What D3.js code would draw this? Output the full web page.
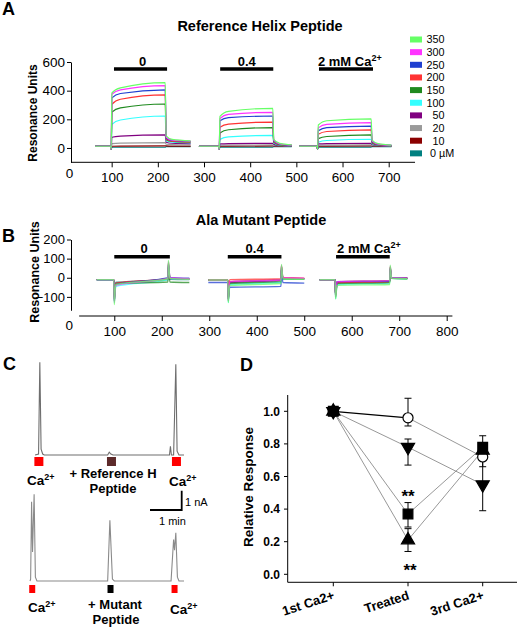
<!DOCTYPE html>
<html><head><meta charset="utf-8">
<script src="https://cdn.jsdelivr.net/npm/d3@7"></script>
<style>
body{margin:0;background:#fff}
svg{display:block}
text{font-family:"Liberation Sans",Arial,Helvetica,sans-serif;fill:#000}
</style>
</head><body><svg id="c" width="520" height="627"></svg>
<script>
// ================= DATA =================
const concLabels = ["350","300","250","200","150","100","50","20","10","0"];
const concColors = ["#66ff66","#ff33ff","#1f3fd0","#ff3333","#1f8a1f","#33ffff","#800080","#9a9a9a","#8b0000","#008080"];

// Panel A (Reference Helix Peptide) - SPR sensorgrams
const caLabelsA = ["0","0.4","2 mM Ca"];
const injA = [[105,220],[335,450],[549,666]];
const segTimesA = [[64,99,216,271],[289,333,449,490],[506,546,662,706]];
const baseA = 12;
// per concentration: [jump, +20s, end of association, after drop, +15s dissociation, end]
const respA_0 = [
  [385,420,456,85,60,50],[375,405,435,75,55,48],[350,380,405,70,52,45],[305,340,370,62,48,42],
  [250,280,307,58,45,40],[165,195,223,50,40,36],[75,82,91,40,33,30],[30,34,37,26,23,22],
  [12,13,14,14,13,13],[5,5,5,10,10,10]];
const respA_04 = [
  [220,255,277,60,32,22],[205,235,249,55,29,20],[190,212,223,50,27,19],[145,167,181,45,25,18],
  [105,127,142,40,22,17],[60,77,88,35,20,16],[28,31,33,25,18,15],[18,20,21,18,16,14],
  [12,13,14,14,13,13],[6,6,6,10,10,10]];
const respA_2 = [
  [160,190,203,55,30,20],[140,165,177,50,27,19],[120,142,153,45,25,18],[95,115,126,40,23,17],
  [65,80,91,35,21,16],[40,52,61,30,19,15],[28,31,33,24,17,14],[18,20,21,18,16,14],
  [12,13,14,14,13,13],[6,6,6,10,10,10]];
const respA = [respA_0, respA_04, respA_2];
const yTicksA = [0,200,400,600];
const xTicksA = [0,100,200,300,400,500,600,700];

// Panel B (Ala Mutant Peptide)
const injB = [[100,217],[339,452],[567,680]];
const segTimesB = [[63,100,214,258],[298,340,452,500],[532,566,681,717]];
// per concentration: [baseline, spike min, after spike, end assoc, spike max, after, end]
const respB_0 = [
  [-10,-140,-35,-5,90,-3,-8],[-10,-130,-40,-3,85,0,-5],[-10,-120,-35,0,70,2,-3],[-10,-110,-30,-3,75,-2,-6],
  [-10,-120,-30,-22,80,-22,-25],[-12,-130,-45,-10,70,-5,-8],[-10,-100,-30,-5,60,-5,-8],[-10,-110,-25,-8,60,-5,-8],
  [-10,-90,-30,-5,50,-5,-6],[-10,-100,-25,-10,55,-8,-10]];
const respB_04 = [
  [-12,-130,-40,-30,70,-5,-8],[-12,-120,-20,-12,65,0,-3],[-25,-110,-50,-45,50,-25,-28],[-12,-110,-10,-5,60,0,-2],
  [-12,-120,-30,-20,60,-5,-6],[-12,-130,-35,-25,55,-5,-6],[-12,-100,-25,-15,45,-3,-5],[-12,-110,-25,-10,45,-3,-5],
  [-12,-90,-20,-10,40,-3,-5],[-12,-100,-25,-12,40,-5,-6]];
const respB_2 = [
  [-10,-110,-40,-35,65,-3,-5],[-10,-100,-20,-15,60,0,-2],[-10,-90,-20,-18,50,0,-2],[-10,-90,-25,-20,55,-2,-3],
  [-10,-100,-30,-25,55,-3,-5],[-10,-110,-35,-28,50,-3,-5],[-10,-90,-25,-20,45,-2,-3],[-10,-95,-25,-20,45,-2,-3],
  [-10,-80,-20,-15,40,-2,-3],[-10,-90,-25,-18,40,-3,-4]];
const respB = [respB_0, respB_04, respB_2];
const yTicksB = [-100,0,100,200];
const xTicksB = [0,100,200,300,400,500,600,700,800];

// Panel C - current traces [time (min), current (nA)]
const traceTop = [[0.16,0],[0.27,0.05],[0.31,4.8],[0.35,0.3],[0.40,0.05],[0.45,0],[2.45,0],[2.5,0.15],[2.55,0.05],[2.62,0],
  [4.40,0],[4.43,0.45],[4.46,0],[4.53,0],[4.60,4.7],[4.64,0.2],[4.70,0],[4.86,0]];
const traceBot = [[0,0],[0.02,0.1],[0.05,4.1],[0.08,1.5],[0.13,4.5],[0.17,0.2],[0.22,0],[2.45,0],[2.52,3.15],[2.6,0.1],[2.66,0],
  [4.45,0],[4.53,2.15],[4.56,1.6],[4.60,2.5],[4.65,0.2],[4.70,0],[4.86,0]];
const markTopT = [0.28,2.57,4.62];
const markTopCol = ["#ff0000","#5c2a2a","#ff0000"];
const markBotT = [0.07,2.54,4.56];
const markBotCol = ["#ff0000","#000000","#ff0000"];

// Panel D - relative response
const dCats = ["1st Ca2+","Treated","3rd Ca2+"];
const dCircle = [1.0,0.96,0.72], dCircleHi = [1.0,1.08,0.78], dCircleLo = [1.0,0.91,0.66];
const dDown = [1.0,0.78,0.55], dDownHi = [1.0,0.83,0.71], dDownLo = [1.0,0.67,0.39];
const dSquare = [1.0,0.37,0.78], dSquareHi = [1.0,0.44,0.85], dSquareLo = [1.0,0.29,0.71];
const dUp = [1.0,0.21,0.76], dUpHi = [1.0,0.28,0.80], dUpLo = [1.0,0.14,0.70];
const yTicksD = [0,0.2,0.4,0.6,0.8,1.0];

// ================= DRAW =================
const svg = d3.select("#c");
const defs = svg.append("defs");
defs.append("filter").attr("id","soft").attr("x","-20%").attr("y","-20%").attr("width","140%").attr("height","140%")
  .append("feGaussianBlur").attr("stdDeviation",0.5);

function sup(t, main, s, size, dy){
  t.append("tspan").text(main);
  t.append("tspan").attr("dy",dy).attr("font-size",size).text(s);
}

// panel letters
[["A",2,15],["B",2,242],["C",3,370],["D",240,371]].forEach(d=>{
  svg.append("text").attr("x",d[1]).attr("y",d[2]).attr("font-size",18).attr("font-weight","bold").text(d[0]);
});

// ---------- Panel A ----------
const xA = d3.scaleLinear().domain([0,700]).range([65.5,388.7]);
const yA = d3.scaleLinear().domain([-100,600]).range([162.3,62]);
const gA = svg.append("g");
gA.append("text").attr("x",260).attr("y",31).attr("text-anchor","middle").attr("font-size",14.5).attr("font-weight","bold").text("Reference Helix Peptide");
gA.append("text").attr("transform","translate(37,113) rotate(-90)").attr("text-anchor","middle").attr("font-size",12).attr("font-weight","bold").text("Resonance Units");

const axYA = gA.append("g").attr("transform",`translate(${71},0)`)
  .call(d3.axisLeft(yA).tickValues(yTicksA).tickSize(4).tickSizeOuter(0).tickPadding(2));
axYA.selectAll("text").attr("font-size",13.5).attr("font-family",null);
axYA.select(".domain").attr("stroke","#000");
const axXA = gA.append("g").attr("transform",`translate(0,${yA(-100)})`)
  .call(d3.axisBottom(xA).tickValues(xTicksA).tickSize(5).tickSizeOuter(0).tickPadding(5));
axXA.select(".domain").remove();
axXA.selectAll("text").attr("font-size",13.5).attr("font-family",null);
axXA.selectAll(".tick").filter(d=>d===0).each(function(){
  d3.select(this).select("line").remove();
  d3.select(this).select("text").attr("x",3.5).attr("dy","0.45em");
});
gA.append("line").attr("x1",71).attr("x2",xA(757)).attr("y1",yA(-100)).attr("y2",yA(-100)).attr("stroke","#000");

// injection bars A
injA.forEach((r,i)=>{
  gA.append("line").attr("x1",xA(r[0])).attr("x2",xA(r[1])).attr("y1",69).attr("y2",69).attr("stroke","#000").attr("stroke-width",3.6);
  const t = gA.append("text").attr("y",66).attr("font-size",13).attr("font-weight","bold");
  if(i<2){ t.attr("x",(xA(r[0])+xA(r[1]))/2+(i===0?2:0)).attr("text-anchor","middle").text(caLabelsA[i]); }
  else { t.attr("x",xA(r[0])-1); sup(t,caLabelsA[i],"2+",9,-5); }
});

const lineA = d3.line().x(d=>xA(d[0])).y(d=>yA(d[1])).curve(d3.curveMonotoneX);
for(let ci=concLabels.length-1; ci>=0; ci--){
  segTimesA.forEach((st,si)=>{
    const r = respA[si][ci];
    const [t0,on,off,end] = st;
    const pts = [[t0,baseA],[on-1.5,baseA],[on,-8],[on+1.5,r[0]],[on+20,r[1]],[off,r[2]],[off+2,r[3]],[off+15,r[4]],[end,r[5]]];
    gA.append("path").attr("d",lineA(pts)).attr("fill","none").attr("stroke",concColors[ci]).attr("stroke-width",1.2);
  });
}

// legend
const legY0 = 39.5, legDy = 12.65;
concLabels.forEach((c,i)=>{
  const y = legY0 + i*legDy;
  gA.append("rect").attr("x",410).attr("y",y-3).attr("width",12).attr("height",6).attr("fill",concColors[i]);
  if(i<concLabels.length-1){
    gA.append("text").attr("x",444.5).attr("y",y+3.8).attr("text-anchor","end").attr("font-size",10.8).text(c);
  } else {
    gA.append("text").attr("x",430).attr("y",y+3.8).attr("font-size",10.8).text(c+" \u00b5M");
  }
});

// ---------- Panel B ----------
const xB = d3.scaleLinear().domain([0,800]).range([66.8,446.7]);
const yB = d3.scaleLinear().domain([-200,200]).range([316,239.5]);
const gB = svg.append("g");
gB.append("text").attr("x",261).attr("y",225).attr("text-anchor","middle").attr("font-size",14.5).attr("font-weight","bold").text("Ala Mutant Peptide");
gB.append("text").attr("transform","translate(39,272) rotate(-90)").attr("text-anchor","middle").attr("font-size",12.5).attr("font-weight","bold").text("Resonance Units");
const yBax = d3.scaleLinear().domain([-170,200]).range([yB(-170),yB(200)]);
const axYB = gB.append("g").attr("transform","translate(71,0)")
  .call(d3.axisLeft(yBax).tickValues(yTicksB).tickSize(4).tickSizeOuter(0).tickPadding(2));
axYB.selectAll("text").attr("font-size",13).attr("font-family",null);
const axXB = gB.append("g").attr("transform",`translate(0,316)`)
  .call(d3.axisBottom(xB).tickValues(xTicksB).tickSize(5).tickSizeOuter(0).tickPadding(5));
axXB.select(".domain").remove();
axXB.selectAll("text").attr("font-size",13.5).attr("font-family",null);
axXB.selectAll(".tick").filter(d=>d===0).each(function(){
  d3.select(this).select("line").remove();
  d3.select(this).select("text").attr("x",2).attr("dy","0.3em");
});
gB.append("line").attr("x1",xB(26)).attr("x2",xB(812)).attr("y1",316).attr("y2",316).attr("stroke","#000");

injB.forEach((r,i)=>{
  gB.append("line").attr("x1",xB(r[0])).attr("x2",xB(r[1])).attr("y1",256.7).attr("y2",256.7).attr("stroke","#000").attr("stroke-width",3.6);
  const t = gB.append("text").attr("y",253).attr("font-size",13).attr("font-weight","bold");
  if(i<2){ t.attr("x",(xB(r[0])+xB(r[1]))/2+(i===0?2:0)).attr("text-anchor","middle").text(caLabelsA[i]); }
  else { t.attr("x",xB(r[0])+1); sup(t,caLabelsA[i],"2+",9,-5); }
});

const lineB = d3.line().x(d=>xB(d[0])).y(d=>yB(d[1])).curve(d3.curveMonotoneX);
const gBt = gB.append("g").attr("filter","url(#soft)");
for(let ci=concLabels.length-1; ci>=0; ci--){
  segTimesB.forEach((st,si)=>{
    const r = respB[si][ci];
    const [t0,on,off,end] = st;
    const pts = [[t0,r[0]],[on-1,r[0]],[on,r[1]],[on+3,r[2]],[off-1,r[3]],[off,r[4]],[off+3,r[5]],[end,r[6]]];
    gBt.append("path").attr("d",lineB(pts)).attr("fill","none").attr("stroke",concColors[ci]).attr("stroke-width",1.4).attr("stroke-opacity",0.75);
  });
}

// ---------- Panel C ----------
const xC = d3.scaleLinear().domain([0,1]).range([30,61.7]);
const yCtop = d3.scaleLinear().domain([0,1]).range([455,435.7]);
const yCbot = d3.scaleLinear().domain([0,1]).range([581,561.7]);
const gC = svg.append("g");
const lineCt = d3.line().x(d=>xC(d[0])).y(d=>yCtop(d[1]));
const lineCb = d3.line().x(d=>xC(d[0])).y(d=>yCbot(d[1]));
gC.append("path").attr("d",lineCt(traceTop)).attr("fill","none").attr("stroke","#6e6e6e").attr("stroke-width",1.1);
gC.append("path").attr("d",lineCb(traceBot)).attr("fill","none").attr("stroke","#8a8a8a").attr("stroke-width",1.1);
markTopT.forEach((t,i)=>{
  gC.append("rect").attr("x",xC(t)-4.5).attr("y",457).attr("width",9).attr("height",9).attr("fill",markTopCol[i]);
});
markBotT.forEach((t,i)=>{
  gC.append("rect").attr("x",xC(t)-3).attr("y",585).attr("width",6).attr("height",8).attr("fill",markBotCol[i]);
});
function cLabel(x,y,anchor){
  const t = gC.append("text").attr("x",x).attr("y",y).attr("font-size",13.5).attr("font-weight","bold").attr("text-anchor",anchor||"start");
  sup(t,"Ca","2+",9,-5);
}
cLabel(27,485); cLabel(169,486);
cLabel(28,612); cLabel(170,614);
gC.append("text").attr("x",113).attr("y",478).attr("text-anchor","middle").attr("font-size",13).attr("font-weight","bold").text("+ Reference H");
gC.append("text").attr("x",113).attr("y",493).attr("text-anchor","middle").attr("font-size",13).attr("font-weight","bold").text("Peptide");
gC.append("text").attr("x",115).attr("y",608.5).attr("text-anchor","middle").attr("font-size",13).attr("font-weight","bold").text("+ Mutant");
gC.append("text").attr("x",116).attr("y",623.5).attr("text-anchor","middle").attr("font-size",13).attr("font-weight","bold").text("Peptide");
// scale bar: 1 nA / 1 min
const sbX = 181.7, sbY = 510;
gC.append("path").attr("d",`M${sbX-(xC(1)-xC(0))},${sbY}H${sbX}V${sbY-(yCtop(0)-yCtop(1))}`).attr("fill","none").attr("stroke","#000").attr("stroke-width",1.8);
gC.append("text").attr("x",185).attr("y",506).attr("font-size",11).text("1 nA");
gC.append("text").attr("x",159).attr("y",525).attr("font-size",11).text("1 min");

// ---------- Panel D ----------
const xD = d3.scalePoint().domain(dCats).range([333.3,482.7]);
const yD = d3.scaleLinear().domain([0,1.1]).range([574.3,395]);
const gD = svg.append("g");
const yBottomD = yD(-0.049);
gD.append("line").attr("x1",287.7).attr("x2",287.7).attr("y1",yD(1.1)).attr("y2",yBottomD).attr("stroke","#000");
gD.append("line").attr("x1",287.7).attr("x2",517).attr("y1",yBottomD).attr("y2",yBottomD).attr("stroke","#000");
yTicksD.forEach(v=>{
  gD.append("line").attr("x1",284).attr("x2",287.7).attr("y1",yD(v)).attr("y2",yD(v)).attr("stroke","#000");
  gD.append("text").attr("x",280).attr("y",yD(v)+4.3).attr("text-anchor","end").attr("font-size",12).attr("font-weight","bold").text(v.toFixed(1));
});
dCats.forEach(c=>{
  gD.append("line").attr("x1",xD(c)).attr("x2",xD(c)).attr("y1",yBottomD).attr("y2",yBottomD+4).attr("stroke","#000");
  gD.append("text").attr("transform",`translate(${xD(c)+2},599) rotate(-18)`).attr("text-anchor","end").attr("font-size",13).attr("font-weight","bold").text(c);
});
gD.append("text").attr("transform","translate(253,487) rotate(-90)").attr("text-anchor","middle").attr("font-size",13.5).attr("font-weight","bold").text("Relative Response");

const seriesD = [
  {v:dCircle,hi:dCircleHi,lo:dCircleLo,sym:d3.symbolCircle,size:80,fill:"#fff",rot:0},
  {v:dDown,hi:dDownHi,lo:dDownLo,sym:d3.symbolTriangle,size:75,fill:"#000",rot:180},
  {v:dSquare,hi:dSquareHi,lo:dSquareLo,sym:d3.symbolSquare,size:95,fill:"#000",rot:0},
  {v:dUp,hi:dUpHi,lo:dUpLo,sym:d3.symbolTriangle,size:75,fill:"#000",rot:0}
];
// connecting lines
seriesD.forEach((s,si)=>{
  for(let k=0;k<dCats.length-1;k++){
    const dark = (si===0 && k===0);
    gD.append("line").attr("x1",xD(dCats[k])).attr("y1",yD(s.v[k])).attr("x2",xD(dCats[k+1])).attr("y2",yD(s.v[k+1]))
      .attr("stroke",dark?"#000":"#8c8c8c").attr("stroke-width",dark?1.3:0.9);
  }
});
// error bars
seriesD.forEach(s=>{
  dCats.forEach((c,k)=>{
    if(s.hi[k]===s.lo[k]) return;
    const x = xD(c);
    gD.append("line").attr("x1",x).attr("x2",x).attr("y1",yD(s.hi[k])).attr("y2",yD(s.lo[k])).attr("stroke","#000").attr("stroke-width",1);
    [s.hi[k],s.lo[k]].forEach(v=>gD.append("line").attr("x1",x-3.5).attr("x2",x+3.5).attr("y1",yD(v)).attr("y2",yD(v)).attr("stroke","#000").attr("stroke-width",1));
  });
});
// markers
seriesD.forEach((s,si)=>{
  dCats.forEach((c,k)=>{
    const fill = (k===0) ? "#000" : s.fill;
    gD.append("path").attr("d",d3.symbol().type(s.sym).size(s.size)())
      .attr("transform",`translate(${xD(c)},${yD(s.v[k])}) rotate(${s.rot})`)
      .attr("fill",fill).attr("stroke","#000").attr("stroke-width",1.2);
  });
});
gD.append("text").attr("x",xD("Treated")).attr("y",502).attr("text-anchor","middle").attr("font-size",17).attr("font-weight","bold").text("**");
gD.append("text").attr("x",xD("Treated")+2).attr("y",576).attr("text-anchor","middle").attr("font-size",17).attr("font-weight","bold").text("**");
</script></body></html>
